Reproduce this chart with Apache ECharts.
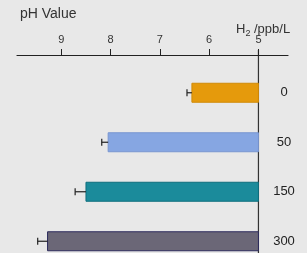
<!DOCTYPE html>
<html>
<head>
    <meta charset="utf-8">
    <title>pH Value vs H2</title>
    <script src="https://cdn.jsdelivr.net/npm/echarts@6/dist/echarts.min.js"></script>
    <style type="text/css">
        html, body {margin: 0; padding: 0; background: #e8e8e8; overflow: hidden;}
        #chart {width: 307px; height: 266px;}
    </style>
</head>
<body>
<div id="chart"></div>
<script>
    // 数据
    var h2Levels = ['0', '50', '150', '300'];
    var phValues = [6.35, 8.05, 8.5, 9.28];
    var phErrors = [0.1, 0.13, 0.22, 0.2];
    var barColors = ['#e59a0c', '#86a6e2', '#1b8b9b', '#6b6777'];
    var barBorders = ['#d08a08', '#7896d0', '#0e6f7e', '#2c2b5c'];
    var phTicks = [9, 8, 7, 6, 5];
    var baseValue = 5;

    var chart = echarts.init(document.getElementById('chart'));

    function renderBar(params, api) {
        var idx = api.value(0);
        var v = api.value(1);
        var h = 19;
        var p0 = api.coord([baseValue, idx]);
        var p1 = api.coord([v, idx]);
        return {
            type: 'rect',
            shape: {x: p1[0], y: p0[1] - h / 2, width: p0[0] - p1[0], height: h},
            style: {fill: barColors[idx], stroke: barBorders[idx], lineWidth: 1}
        };
    }

    function renderErr(params, api) {
        var idx = api.value(0);
        var v = api.value(1);
        var e = api.value(2);
        var a = api.coord([v, idx]);
        var b = api.coord([v + e, idx]);
        return {
            type: 'group',
            children: [
                {type: 'line', shape: {x1: a[0], y1: a[1], x2: b[0], y2: b[1]}, style: {stroke: '#222', lineWidth: 1.2}},
                {type: 'line', shape: {x1: b[0], y1: b[1] - 3.5, x2: b[0], y2: b[1] + 3.5}, style: {stroke: '#222', lineWidth: 1.2}}
            ]
        };
    }

    var barData = h2Levels.map(function (c, i) { return [i, phValues[i]]; });
    var errData = h2Levels.map(function (c, i) { return [i, phValues[i], phErrors[i]]; });

    var option = {
        backgroundColor: '#e8e8e8',
        animation: false,
        textStyle: {fontFamily: 'Liberation Sans'},
        title: [
            {text: 'pH Value', left: 15, top: 2, textStyle: {fontSize: 14, fontWeight: 'normal', color: '#333'}},
            {
                text: '{a|H}{s|2}{a| /ppb/L}', left: 231, top: 16,
                textStyle: {
                    fontWeight: 'normal',
                    rich: {
                        a: {fontSize: 13, fontWeight: 'normal', color: '#333'},
                        s: {fontSize: 9, fontWeight: 'normal', color: '#333', padding: [8, 0, 0, 0]}
                    }
                }
            }
        ],
        grid: {left: 17, right: 19, top: 68, bottom: 0},
        xAxis: {
            type: 'value',
            position: 'top',
            offset: 13,
            inverse: true,
            min: 4.4,
            max: 9.9,
            splitLine: {show: false},
            axisLine: {show: true, lineStyle: {color: '#222', width: 1.2}},
            axisTick: {show: true, customValues: phTicks, length: 6, lineStyle: {color: '#222'}},
            axisLabel: {customValues: phTicks, margin: 10, fontSize: 11, color: '#333'}
        },
        yAxis: {
            type: 'category',
            data: h2Levels,
            inverse: true,
            position: 'right',
            axisLine: {show: false},
            axisTick: {show: false},
            axisLabel: {align: 'center', margin: -4, fontSize: 13, color: '#222'}
        },
        series: [
            {
                type: 'custom',
                renderItem: renderBar,
                encode: {x: 1, y: 0},
                data: barData
            },
            {
                type: 'custom',
                renderItem: renderErr,
                encode: {x: 1, y: 0},
                data: errData
            }
        ]
    };
    chart.setOption(option);

    // H2 轴竖线（pH = 5 处）
    var xBase = chart.convertToPixel({xAxisIndex: 0}, baseValue);
    chart.setOption({
        graphic: [{
            type: 'line',
            shape: {x1: xBase, y1: 50, x2: xBase, y2: 266},
            style: {stroke: '#333', lineWidth: 1.2}
        }]
    });
</script>
</body>
</html>
